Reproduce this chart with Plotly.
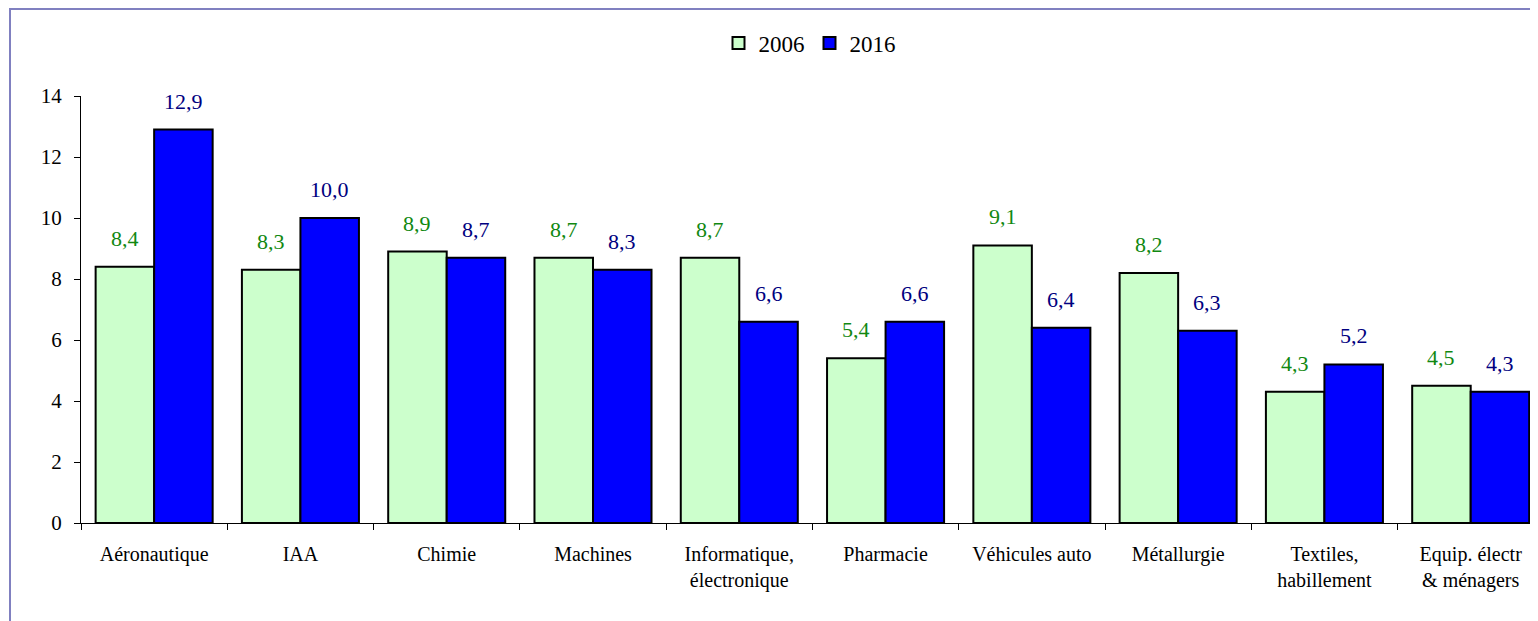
import plotly.graph_objects as go

categories = ["Aéronautique", "IAA", "Chimie", "Machines", "Informatique,<br>électronique",
              "Pharmacie", "Véhicules auto", "Métallurgie", "Textiles,<br>habillement",
              "Equip. électr<br>& ménagers"]
values_2006 = [8.4, 8.3, 8.9, 8.7, 8.7, 5.4, 9.1, 8.2, 4.3, 4.5]
values_2016 = [12.9, 10.0, 8.7, 8.3, 6.6, 6.6, 6.4, 6.3, 5.2, 4.3]
series_names = ["2006", "2016"]
y_ticks = [0, 2, 4, 6, 8, 10, 12, 14]

FONT = "Liberation Serif, Times New Roman, serif"
fill_colors = ["#ccffcc", "#0000ff"]
text_colors = ["#118811", "#000080"]

# page body has an 8px margin: the figure is sized to fit the window
W, H = 1530, 613
ML, MT, MB = 73, 88, 98
PW = W - ML
PH = H - MT - MB

fig = go.Figure()
for name, vals, fc in zip(series_names, [values_2006, values_2016], fill_colors):
    fig.add_trace(go.Bar(
        name=name, x=categories, y=vals,
        marker=dict(color=fc, line=dict(color="black", width=2)),
    ))

def fmt(v):
    return f"{v:.1f}".replace(".", ",")

annotations = []
for s, (vals, tc) in enumerate(zip([values_2006, values_2016], text_colors)):
    off = -0.2 if s == 0 else 0.2
    for i, v in enumerate(vals):
        annotations.append(dict(
            x=i + off, y=v, xref="x", yref="y", text=fmt(v), showarrow=False,
            yanchor="bottom", yshift=14,
            font=dict(family=FONT, size=22, color=tc),
        ))

fig.update_layout(
    width=W, height=H,
    margin=dict(l=ML, r=0, t=MT, b=MB, pad=0),
    paper_bgcolor="white", plot_bgcolor="white",
    barmode="group", bargap=0.2, bargroupgap=0,
    font=dict(family=FONT, color="black"),
    legend=dict(orientation="h", x=0.5, xanchor="center",
                y=(PH + MT - 35) / PH, yanchor="middle",
                font=dict(family=FONT, size=23, color="black"), traceorder="normal",
                itemwidth=30),
    annotations=annotations,
    showlegend=True,
    shapes=[dict(type="rect", xref="paper", yref="paper",
                 x0=(2 - ML) / PW, x1=1.05, y0=-0.4, y1=(PH + MT - 1) / PH,
                 line=dict(color="#8080c0", width=2), layer="below")],
)
fig.update_xaxes(
    range=[-0.5, 9.46], showline=True, linecolor="black", linewidth=1,
    ticks="outside", tickson="boundaries", ticklen=6, tickcolor="black",
    tickfont=dict(family=FONT, size=20, color="black"), showgrid=False,
    ticklabelstandoff=13,
)
fig.update_yaxes(
    range=[0, 14], tickvals=y_ticks, showline=True, linecolor="black", linewidth=1,
    ticks="outside", ticklen=6, tickcolor="black", showgrid=False, zeroline=False,
    tickfont=dict(family=FONT, size=21, color="black"), ticklabelstandoff=8,
)

fig.write_html("out.html")
